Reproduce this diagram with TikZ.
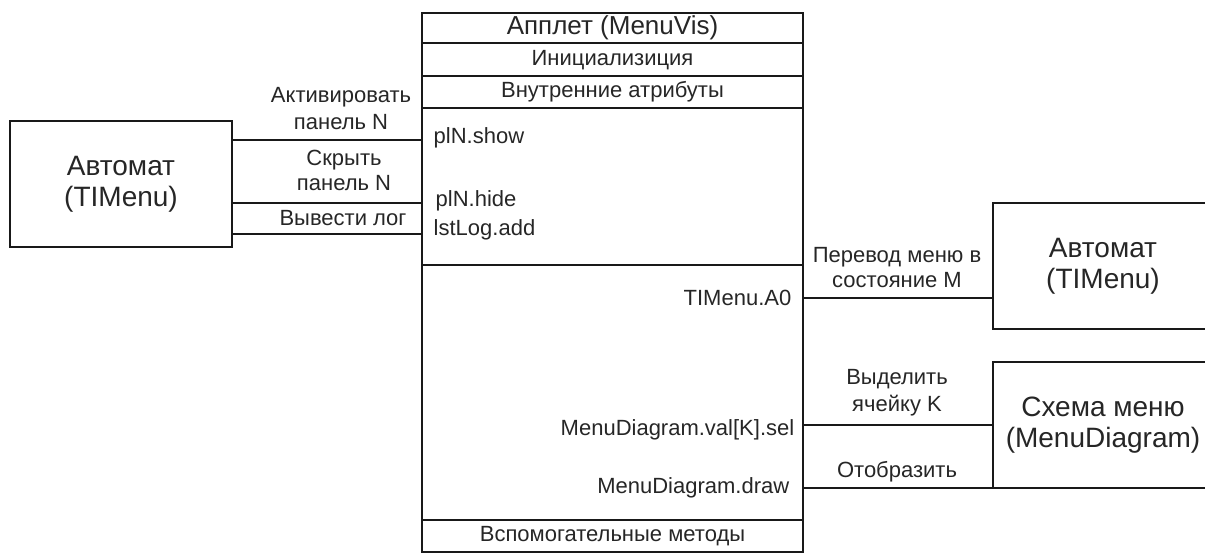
\documentclass[tikz,border=0pt]{standalone}
\usepackage{fontspec}
\setmainfont{Liberation Sans}
\begin{document}
\begin{tikzpicture}[x=0.75pt,y=-0.75pt,
  line width=1.1pt,
  every node/.style={text=black!85},
  blk/.style={draw=black!90,inner sep=0pt,outer sep=0pt,anchor=north west},
  lbl/.style={font=\fontsize{16.5}{20}\selectfont,inner sep=0pt,align=center},
  big/.style={font=\fontsize{21}{23.5}\selectfont,align=center},
  conn/.style={draw=black!90}]
\path[use as bounding box] (0,0) rectangle (1205,553);
\clip (0,0) rectangle (1205,553);

% class box of the applet with its compartments
\node[blk,minimum width=285.75pt,minimum height=404.25pt] (applet) at (422,13) {};
\foreach \yy in {43,76,108,265,520}
  \draw[black!90] (applet.west |- 0,\yy) -- (applet.east |- 0,\yy);
\node[font=\fontsize{19.5}{21}\selectfont,inner sep=0pt] (title) at (612.5,28) {Апплет (MenuVis)};
\node[lbl] (init) at (612.5,60) {Инициализиция};
\node[lbl] (attrs) at (612.5,92) {Внутренние атрибуты};
\node[lbl] (aux) at (612.5,536) {Вспомогательные методы};

% method names
\node[lbl,anchor=west] (mshow) at (433,138) {plN.show};
\node[lbl,anchor=west] (mhide) at (435,201) {plN.hide};
\node[lbl,anchor=west] (mlog) at (433,230) {lstLog.add};
\node[lbl,anchor=east] (ma0) at (792,298) {TIMenu.A0};
\node[lbl,anchor=east] (msel) at (795,430) {MenuDiagram.val[K].sel};
\node[lbl,anchor=east] (mdraw) at (790,488) {MenuDiagram.draw};

% outer blocks
\node[blk,minimum width=166.5pt,minimum height=94.5pt] (lauto) at (10,121) {};
\node[big] at (lauto.center) {Автомат\\(TIMenu)};
\node[blk,minimum width=165pt,minimum height=94.5pt] (rauto) at (993,203) {};
\node[big] at (rauto.center) {Автомат\\(TIMenu)};
\node[blk,minimum width=165pt,minimum height=94.5pt] (diag) at (993,362) {};
\node[big] at (diag.center) {Схема меню\\(MenuDiagram)};

% connectors on the left
\draw[conn] (lauto.east |- 0,140) -- (applet.west |- 0,140);
\draw[conn] (lauto.east |- 0,203) -- (applet.west |- 0,203);
\draw[conn] (lauto.east |- 0,234) -- (applet.west |- 0,234);
\node[lbl,font=\fontsize{16.5}{20.25}\selectfont] (t1) at (341,108.5) {Активировать\\панель N};
\node[lbl,font=\fontsize{16.5}{19}\selectfont] (t2) at (344,170.5) {Скрыть\\панель N};
\node[lbl] (t3) at (343,218) {Вывести лог};

% connectors on the right
\draw[conn] (applet.east |- 0,298) -- (rauto.west |- 0,298);
\draw[conn] (applet.east |- 0,425) -- (diag.west |- 0,425);
\draw[conn] (applet.east |- diag.south west) -- (diag.south west);
\node[lbl,font=\fontsize{16.5}{19}\selectfont] (t4) at (897,267.5) {Перевод меню в\\состояние M};
\node[lbl,font=\fontsize{16.5}{20}\selectfont] (t5) at (897,392.5) {Выделить\\ячейку K};
\node[lbl] (t6) at (897,472) {Отобразить};
\end{tikzpicture}
\end{document}
